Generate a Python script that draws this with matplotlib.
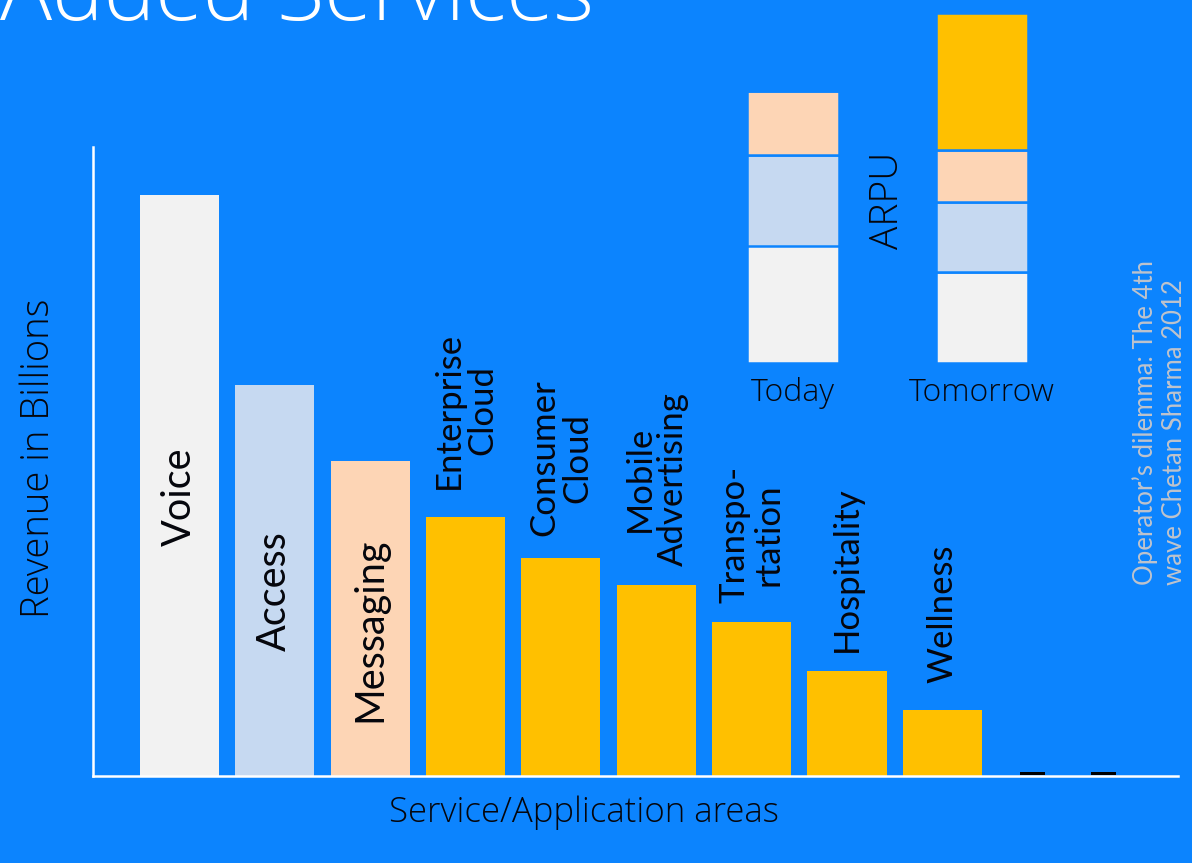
import matplotlib.pyplot as plt

# revenue per service area (billions)
services = ["Voice", "Access", "Messaging", "Enterprise\nCloud", "Consumer\nCloud",
            "Mobile\nAdvertising", "Transpo-\nrtation", "Hospitality", "Wellness"]
revenue = [58.1, 39.1, 31.5, 25.9, 21.8, 19.1, 15.4, 10.5, 6.6]
# placeholders for further areas
more_x = [8.95, 9.69]
more_h = [0.3, 0.3]

# ARPU split, today vs tomorrow
periods = ["Today", "Tomorrow"]
arpu_voice = [117.5, 91]
arpu_access = [90.5, 70]
arpu_messaging = [64, 52]
arpu_new = [0, 137]

BG = "#0C84FE"
INK = "#05060C"
c_voice, c_access, c_msg, c_new = "#F2F2F2", "#C6D9F1", "#FDD5B5", "#FFC000"
colors = [c_voice, c_access, c_msg] + [c_new] * 6

W, H = 1192, 863
fig = plt.figure(figsize=(W / 100, H / 100), dpi=100, facecolor=BG)
plt.rcParams["font.family"] = ["Lato", "DejaVu Sans"]
LIGHT = dict(family=["Open Sans", "DejaVu Sans"], weight="light")

# main chart
ax = fig.add_axes([93 / W, 1 - 776 / H, (1178 - 93) / W, (776 - 147) / H])
ax.set_facecolor(BG)
x = list(range(len(services)))
ax.bar(x, revenue, width=0.83, color=colors, zorder=2)
ax.bar(more_x, more_h, width=0.26, bottom=0.15, color="black", zorder=2)
ax.set_xlim(-0.907, 10.472)
ax.set_ylim(0, 62.9)
for s in ["top", "right"]:
    ax.spines[s].set_visible(False)
for s in ["left", "bottom"]:
    ax.spines[s].set_color("white")
    ax.spines[s].set_linewidth(1.8)
ax.set_xticks([])
ax.set_yticks([])

# labels inside the first three bars
for i in range(3):
    ax.annotate(services[i], (x[i], revenue[i] / 2), xytext=(0, -8),
                textcoords="offset points", rotation=90, ha="center", va="center",
                fontsize=28.5, color=INK)

# labels above the new service bars
gaps = [28, 22, 19, 19, 19, 27, 37]
for i in range(3, len(services)):
    ax.annotate(services[i], (x[i], revenue[i]), xytext=(0, gaps[i - 3] * 0.72),
                textcoords="offset points", rotation=90, ha="center", va="bottom",
                multialignment="center", fontsize=25, color=INK, linespacing=1.05)

fig.text(39 / W, 1 - 458 / H, "Revenue in Billions", rotation=90, ha="center",
         va="center", fontsize=27.5, color=INK, **LIGHT)
fig.text(584 / W, 1 - 813 / H, "Service/Application areas", ha="center", va="center",
         fontsize=25, color=INK, **LIGHT)

# ARPU inset
ax2 = fig.add_axes([700 / W, 1 - 363 / H, 380 / W, 350 / H])
ax2.set_facecolor("none")
px = [0, 1]
bw = 92 / 189
b1 = arpu_voice
b2 = [a + b for a, b in zip(b1, arpu_access)]
b3 = [a + b for a, b in zip(b2, arpu_messaging)]
kw = dict(width=bw, edgecolor=BG, linewidth=1.8)
ax2.bar(px, arpu_voice, color=c_voice, **kw)
ax2.bar(px, arpu_access, bottom=b1, color=c_access, **kw)
ax2.bar(px, arpu_messaging, bottom=b2, color=c_msg, **kw)
ax2.bar(px, arpu_new, bottom=b3, color=c_new, **kw)
ax2.set_xlim(-93 / 189, 287 / 189)
ax2.set_ylim(0, 350)
for s in ax2.spines.values():
    s.set_visible(False)
ax2.set_yticks([])
ax2.set_xticks(px)
ax2.set_xticklabels(periods, fontsize=23, color=INK, **LIGHT)
ax2.tick_params(axis="x", length=0, pad=10)

fig.text(888 / W, 1 - 200 / H, "ARPU", rotation=90, ha="center", va="center",
         fontsize=28, color=INK, **LIGHT)

fig.text(1160 / W, 1 - 585 / H, "Operator\u2019s dilemma: The 4th\nwave Chetan Sharma 2012",
         rotation=90, ha="center", va="bottom", multialignment="left",
         fontsize=18.5, color="#BFC3CC", linespacing=1.2)

# heading, running off the top edge
fig.text(0.0, 1 - 20 / H, "Added Services", ha="left", va="baseline",
         fontsize=62.5, color="white", **LIGHT)

fig.savefig("out.png", dpi=100, facecolor=BG)
